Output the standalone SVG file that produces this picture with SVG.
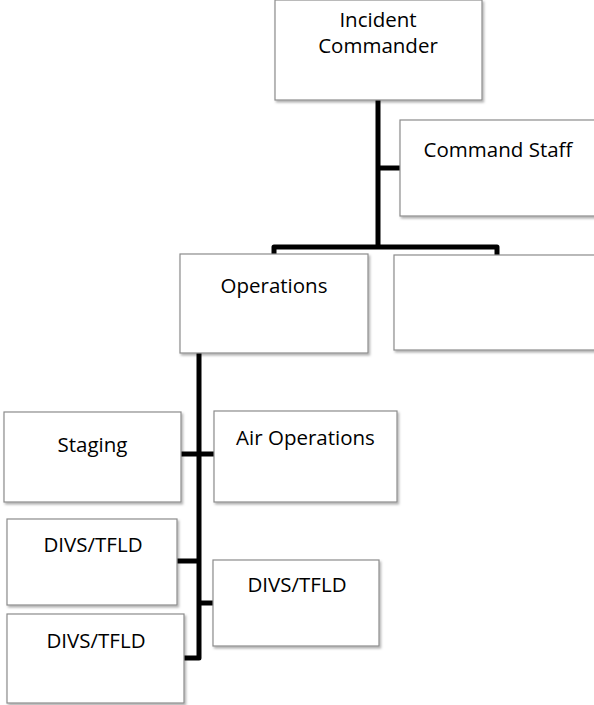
<svg xmlns="http://www.w3.org/2000/svg" width="594" height="705" viewBox="0 0 594 705">
<defs>
<filter id="sh" x="-10%" y="-10%" width="130%" height="130%">
<feDropShadow dx="1.5" dy="2" stdDeviation="1.2" flood-color="#000" flood-opacity="0.3"/>
</filter>
<style>
.box{fill:#fff;stroke:#8c8c8c;stroke-width:1.2;filter:url(#sh)}
.t{font-family:"Open Sans","Noto Sans","Liberation Sans",sans-serif;font-size:20.5px;fill:#000;text-anchor:middle}
.c{fill:none;stroke:#000;stroke-width:5;stroke-linejoin:round;stroke-linecap:butt}
</style>
</defs>
<rect width="594" height="705" fill="#fff"/>
<g id="connectors">
<path class="c" d="M378,100 V247"/>
<path class="c" d="M274,255 V247 H497 V255"/>
<path class="c" d="M378,168 H400"/>
<path class="c" d="M199,353 V658 H184"/>
<path class="c" d="M181,454 H214"/>
<path class="c" d="M177,561 H199"/>
<path class="c" d="M199,603 H213"/>
</g>
<g id="incident-commander">
<rect class="box" x="275" y="0" width="207" height="100"/>
<text class="t" x="378" y="27">Incident</text>
<text class="t" x="378" y="53">Commander</text>
</g>
<g id="command-staff">
<rect class="box" x="400" y="120" width="200" height="96"/>
<text class="t" x="498" y="157">Command Staff</text>
</g>
<g id="operations">
<rect class="box" x="180" y="254" width="188" height="99"/>
<text class="t" x="274" y="293">Operations</text>
</g>
<g id="empty-section">
<rect class="box" x="394" y="255" width="206" height="95"/>
</g>
<g id="staging">
<rect class="box" x="4" y="412" width="177" height="90"/>
<text class="t" x="92.5" y="452">Staging</text>
</g>
<g id="air-operations">
<rect class="box" x="214" y="411" width="183" height="91"/>
<text class="t" x="305.5" y="445">Air Operations</text>
</g>
<g id="divs-1">
<rect class="box" x="7" y="519" width="170" height="86"/>
<text class="t" x="93" y="552">DIVS/TFLD</text>
</g>
<g id="divs-2">
<rect class="box" x="213" y="560" width="166" height="86"/>
<text class="t" x="297" y="592">DIVS/TFLD</text>
</g>
<g id="divs-3">
<rect class="box" x="7" y="614" width="177" height="89"/>
<text class="t" x="96" y="648">DIVS/TFLD</text>
</g>
</svg>
